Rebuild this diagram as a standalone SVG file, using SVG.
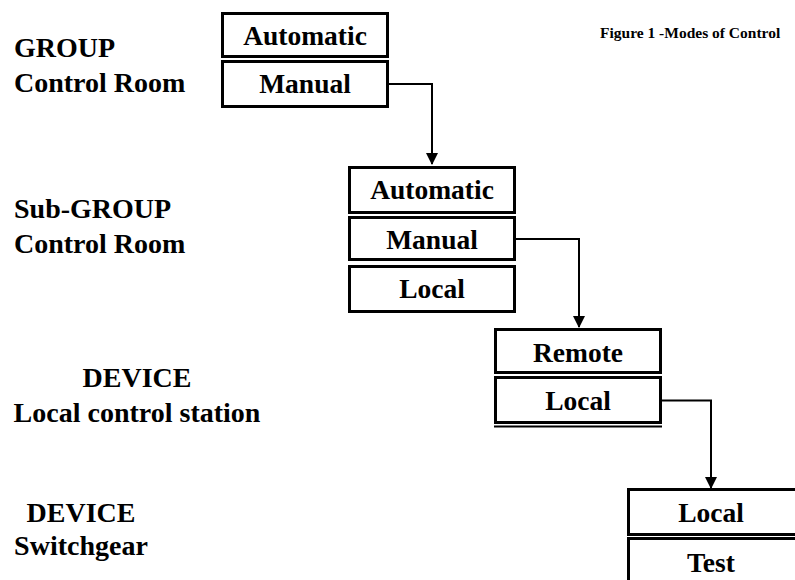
<svg xmlns="http://www.w3.org/2000/svg" width="795" height="580" viewBox="0 0 795 580">
<style>
text{font-family:"Liberation Serif","Times New Roman",serif;font-weight:bold;fill:#000}
.lbl{font-size:28px}
.bt{font-size:27.5px;text-anchor:middle}
.title{font-size:15.5px}
.box{fill:#fff;stroke:#000;stroke-width:3}
.conn{fill:none;stroke:#000;stroke-width:2}
</style>
<defs>
<marker id="ah" viewBox="0 0 12 12" refX="11" refY="6" markerWidth="12" markerHeight="12" markerUnits="userSpaceOnUse" orient="auto">
<path d="M0,0 L12,6 L0,12 Z" fill="#000"/>
</marker>
</defs>
<rect width="795" height="580" fill="#fff"/>
<text class="title" x="600" y="38">Figure 1 -Modes of Control</text>
<g id="labels">
<text class="lbl" x="14" y="57">GROUP</text>
<text class="lbl" x="14" y="92">Control Room</text>
<text class="lbl" x="14" y="218">Sub-GROUP</text>
<text class="lbl" x="14" y="253">Control Room</text>
<text class="lbl" x="137" y="387" text-anchor="middle">DEVICE</text>
<text class="lbl" x="137" y="422" text-anchor="middle">Local control station</text>
<text class="lbl" x="81" y="522" text-anchor="middle">DEVICE</text>
<text class="lbl" x="81" y="555" text-anchor="middle">Switchgear</text>
</g>
<g id="group-box">
<rect class="box" x="222.5" y="13.5" width="165" height="43"/>
<text class="bt" x="305" y="45">Automatic</text>
<rect class="box" x="222.5" y="61.5" width="165" height="45"/>
<text class="bt" x="305" y="93">Manual</text>
</g>
<g id="subgroup-box">
<rect class="box" x="349.5" y="167.5" width="165" height="45"/>
<text class="bt" x="432" y="199">Automatic</text>
<rect class="box" x="349.5" y="217.5" width="165" height="42"/>
<text class="bt" x="432" y="249">Manual</text>
<rect class="box" x="349.5" y="266.5" width="165" height="45"/>
<text class="bt" x="432" y="298">Local</text>
</g>
<g id="device-station-box">
<rect class="box" x="495.5" y="329.5" width="165" height="43"/>
<text class="bt" x="578" y="362">Remote</text>
<rect class="box" x="495.5" y="377.5" width="165" height="45"/>
<text class="bt" x="578" y="410">Local</text>
<line x1="494" y1="426.5" x2="662" y2="426.5" stroke="#000" stroke-width="2"/>
</g>
<g id="switchgear-box">
<rect class="box" x="628.5" y="489.5" width="170" height="45"/>
<text class="bt" x="711" y="522">Local</text>
<rect class="box" x="628.5" y="538.5" width="170" height="50"/>
<text class="bt" x="711" y="572">Test</text>
</g>
<g id="connectors">
<path class="conn" d="M389,84 H432 V164" marker-end="url(#ah)"/>
<path class="conn" d="M516,239 H579 V327" marker-end="url(#ah)"/>
<path class="conn" d="M662,400.5 H711 V488" marker-end="url(#ah)"/>
</g>
</svg>
